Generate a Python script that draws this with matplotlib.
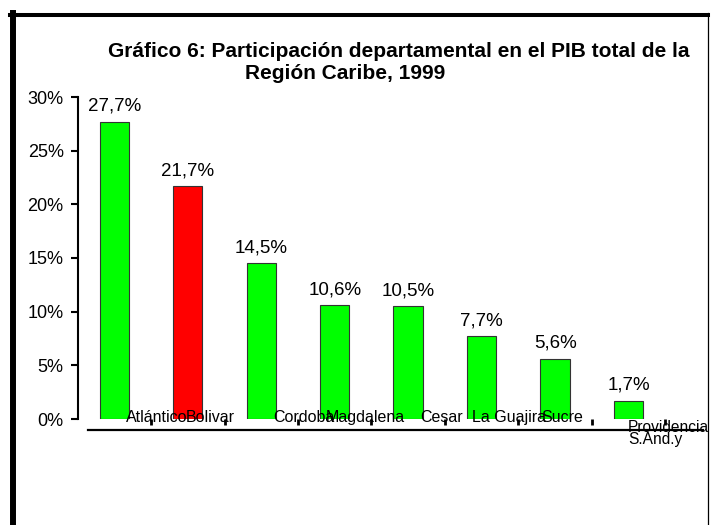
import matplotlib
matplotlib.use("Agg")
import matplotlib.pyplot as plt
from matplotlib.lines import Line2D
import numpy as np

plt.rcParams['font.family'] = ['Liberation Sans', 'DejaVu Sans']

categories = ["Atlántico", "Bolivar", "Cordoba", "Magdalena", "Cesar",
              "La Guajira", "Sucre", "Providencia\nS.And.y"]
values = [27.7, 21.7, 14.5, 10.6, 10.5, 7.7, 5.6, 1.7]
value_labels = ["27,7%", "21,7%", "14,5%", "10,6%", "10,5%", "7,7%", "5,6%", "1,7%"]
bar_colors = ["#00FF00", "#FF0000", "#00FF00", "#00FF00", "#00FF00",
              "#00FF00", "#00FF00", "#00FF00"]
yticks = [0, 5, 10, 15, 20, 25, 30]
ytick_labels = ["0%", "5%", "10%", "15%", "20%", "25%", "30%"]
title_line1 = "Gráfico 6: Participación departamental en el PIB total de la"
title_line2 = "Región Caribe, 1999"

# label horizontal offsets (in category units) to mimic original placement
label_offsets = [0.58, 0.31, 0.58, 0.42, 0.46, 0.37, 0.09, 0.0]

W, H = 713, 525
fig = plt.figure(figsize=(W / 100, H / 100), dpi=100)
ax = fig.add_axes([77.6 / W, (H - 419) / H, (665.3 - 77.6) / W, (419 - 97) / H])

x = np.arange(len(categories))
ax.bar(x, values, width=0.4, color=bar_colors, edgecolor="#333333", linewidth=0.8)

ax.set_xlim(-0.5, len(categories) - 0.5)
ax.set_ylim(0, 30)
ax.set_yticks(yticks)
ax.set_yticklabels(ytick_labels, fontsize=13)
ax.tick_params(axis='y', length=5, width=1.5, pad=5, direction='out')

# x ticks at category boundaries
ax.set_xticks(x + 0.5)
ax.set_xticklabels([])
ax.tick_params(axis='x', length=4, width=2, direction='out', color='black')

for s in ['top', 'right', 'bottom']:
    ax.spines[s].set_visible(False)
ax.spines['left'].set_linewidth(1.5)

for xi, v, lab in zip(x, values, value_labels):
    ax.annotate(lab, (xi, v), xytext=(0, 5), textcoords='offset points',
                ha='center', va='bottom', fontsize=13.5)

for xi, cat, off in zip(x, categories, label_offsets):
    if "\n" in cat:
        ax.annotate(cat, (xi + off, 0), xycoords=('data', 'axes fraction'),
                    xytext=(-0.5, -0.5), textcoords='offset points',
                    ha='left', va='top', fontsize=11.2, linespacing=0.8,
                    multialignment='left')
    else:
        ax.annotate(cat, (xi + off, 0), xycoords=('data', 'axes fraction'),
                    xytext=(0, -2.3), textcoords='offset points',
                    ha='center', va='baseline', fontsize=11.5)

# separate thick base line below axis
ax.add_line(Line2D([(88 - 77.6) / 587.7, (703 - 77.6) / 587.7], [-11 / 322, -11 / 322],
                   transform=ax.transAxes, color='black', linewidth=1.6, clip_on=False))

fig.text(398.5 / W, 1 - 56.7 / H, title_line1, ha='center', va='baseline',
         fontsize=15, fontweight='bold')
fig.text(345 / W, 1 - 79.3 / H, title_line2, ha='center', va='baseline',
         fontsize=15, fontweight='bold')

# outer frame
fig.add_artist(Line2D([10 / W, 708 / W], [1 - 14.7 / H, 1 - 14.7 / H],
                      transform=fig.transFigure, color='black', linewidth=2.9))
fig.add_artist(Line2D([13 / W, 13 / W], [1 - 12.7 / H, 0],
                      transform=fig.transFigure, color='black', linewidth=4.3))
fig.add_artist(Line2D([708 / W, 708 / W], [1 - 12.7 / H, 0],
                      transform=fig.transFigure, color='black', linewidth=0.9))

fig.savefig("out.png", dpi=100)
